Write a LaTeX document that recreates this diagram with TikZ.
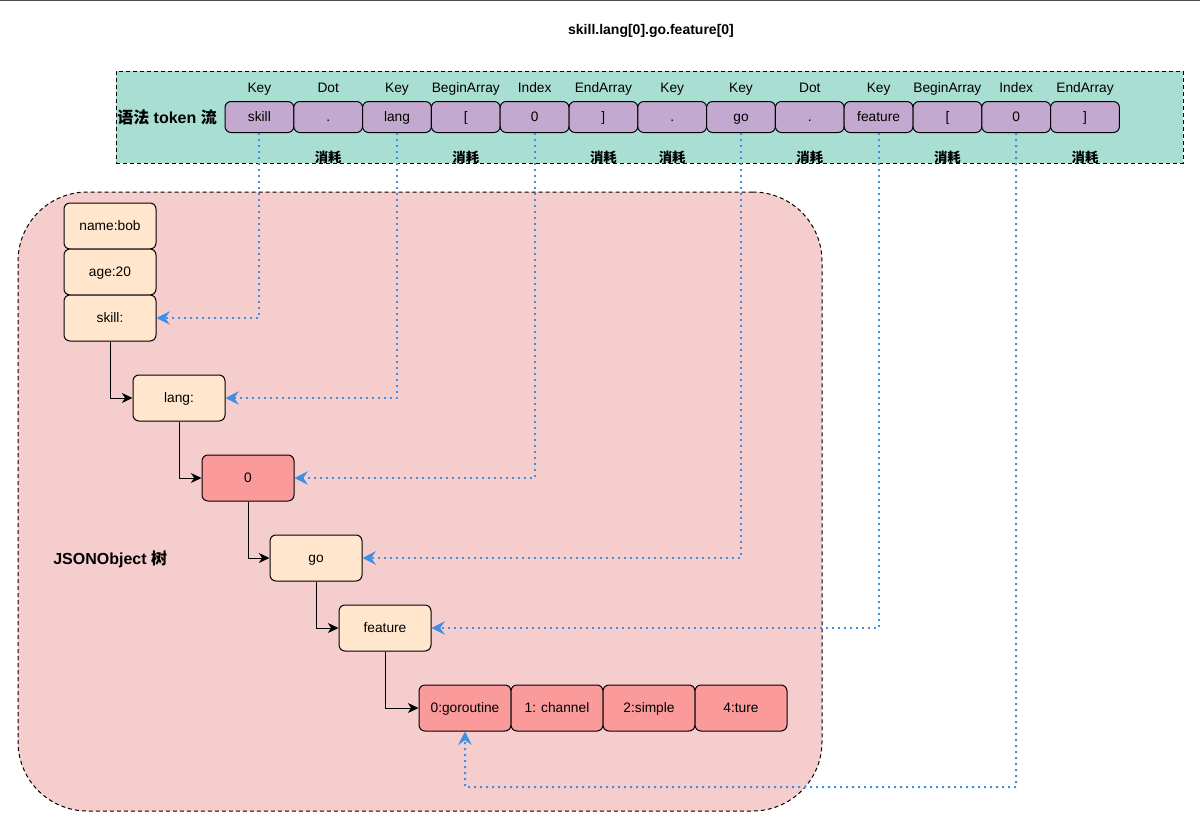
\documentclass[tikz,border=0pt]{standalone}
\usepackage{fontspec}
\setmainfont{Liberation Sans}
\newfontfamily\cjk{Noto Sans CJK SC}
\usetikzlibrary{arrows.meta}
\definecolor{tealbg}{HTML}{A9DED3}
\definecolor{tokfill}{HTML}{C3A9CF}
\definecolor{pinkbg}{HTML}{F6CDCD}
\definecolor{peach}{HTML}{FFE6CC}
\definecolor{redn}{HTML}{FA9A9A}
\definecolor{bluel}{HTML}{3D8EE6}
\newcommand\fs{\fontsize{10.3}{12}\selectfont}
\newcommand\fbig{\fontsize{12}{14}\selectfont\bfseries}
\begin{document}
\begin{tikzpicture}[x=0.75pt,y=-0.75pt,line join=round,
  tokbox/.style={draw=black,line width=0.75pt,dash pattern=on 3pt off 2.25pt,fill=tealbg,minimum width=800.25pt,minimum height=69pt,inner sep=0pt},
  treebox/.style={draw=black,line width=0.75pt,dash pattern=on 3pt off 2.25pt,fill=pinkbg,minimum width=603pt,minimum height=464.25pt,inner sep=0pt,rounded corners=52pt},
  tok/.style={draw=black,line width=0.75pt,fill=tokfill,rounded corners=4.5pt,minimum width=51.6pt,minimum height=23.25pt,inner sep=0pt,font=\fs,text height=0.85em,text depth=0.15em},
  lab/.style={inner sep=0pt,font=\fs,text height=0.72em,text depth=0.2em},
  xh/.style={inner sep=0pt,font=\fontsize{10}{12}\selectfont\cjk\bfseries},
  tn/.style={draw=black,line width=0.75pt,fill=peach,rounded corners=4.5pt,minimum width=69pt,minimum height=34.5pt,inner sep=0pt,font=\fs,text height=0.85em,text depth=0.15em},
  rn/.style={tn,fill=redn},
  blk/.style={draw=black,line width=0.75pt,-{Stealth[length=8pt,width=7.5pt,inset=2.5pt]}},
  blu/.style={draw=bluel,line width=1.5pt,dash pattern=on 1.5pt off 3pt,-{Stealth[length=10pt,width=10pt,inset=3.5pt,sep=0pt]}}
]
\useasboundingbox (0,0) rectangle (1200,828);
\fill[white] (0,0) rectangle (1200,828);
\draw[draw=black!70,line width=1.1pt] (0,0.7) -- (1200,0.7);

\node[inner sep=0pt,font=\fontsize{10.5}{12}\selectfont\bfseries] (title) at (651,31) {skill.lang[0].go.feature[0]};

\node[tokbox] (tokbg) at (649.5,117) {};
\node[treebox] (treebg) at (420,501.5) {};

\node[anchor=west,inner sep=0pt] (toklabel) at (117,117) {\fbig{\cjk 语法} token {\cjk 流}};
\node[anchor=west,inner sep=0pt] (treelabel) at (53,559) {\fbig JSONObject {\cjk 树}};

\foreach \i/\txt/\lb in {1/skill/Key,2/./Dot,3/lang/Key,4/[/BeginArray,5/0/Index,6/]/EndArray,7/./Key,8/go/Key,9/./Dot,10/feature/Key,11/[/BeginArray,12/0/Index,13/]/EndArray}{
  \node[tok] (t\i) at ({225+68.8*(\i-0.5)},117) {\txt};
  \node[lab] (k\i) at ([yshift=9pt]t\i.north) {\lb};
}
\foreach \i in {2,4,6,7,9,11,13}{
  \node[xh] (c\i) at ([yshift=-18pt]t\i.south) {消耗};
}

\node[tn] (name) at (110,226) {name:bob};
\node[tn] (age) at (110,272) {age:20};
\node[tn] (skill) at (110,318) {skill:};
\node[tn] (lang) at (179,398) {lang:};
\node[rn] (zero) at (248,478) {0};
\node[tn] (go) at (316,558) {go};
\node[tn] (feature) at (385,628) {feature};
\node[rn] (a0) at (465,708) {0:goroutine};
\node[rn] (a1) at (557,708) {1: channel};
\node[rn] (a2) at (649,708) {2:simple};
\node[rn] (a3) at (741,708) {4:ture};

\draw[blk] (skill.south) |- (lang.west);
\draw[blk] (lang.south) |- (zero.west);
\draw[blk] (zero.south) |- (go.west);
\draw[blk] (go.south) |- (feature.west);
\draw[blk] (feature.south) |- (a0.west);

\draw[blu] (t1.south) |- (skill.east);
\draw[blu] (t3.south) |- (lang.east);
\draw[blu] (t5.south) |- (zero.east);
\draw[blu] (t8.south) |- (go.east);
\draw[blu] (t10.south) |- (feature.east);
\coordinate (bend) at (1016.2,787);
\draw[blu] (t12.south) -- (bend) -| (a0.south);
\end{tikzpicture}
\end{document}
